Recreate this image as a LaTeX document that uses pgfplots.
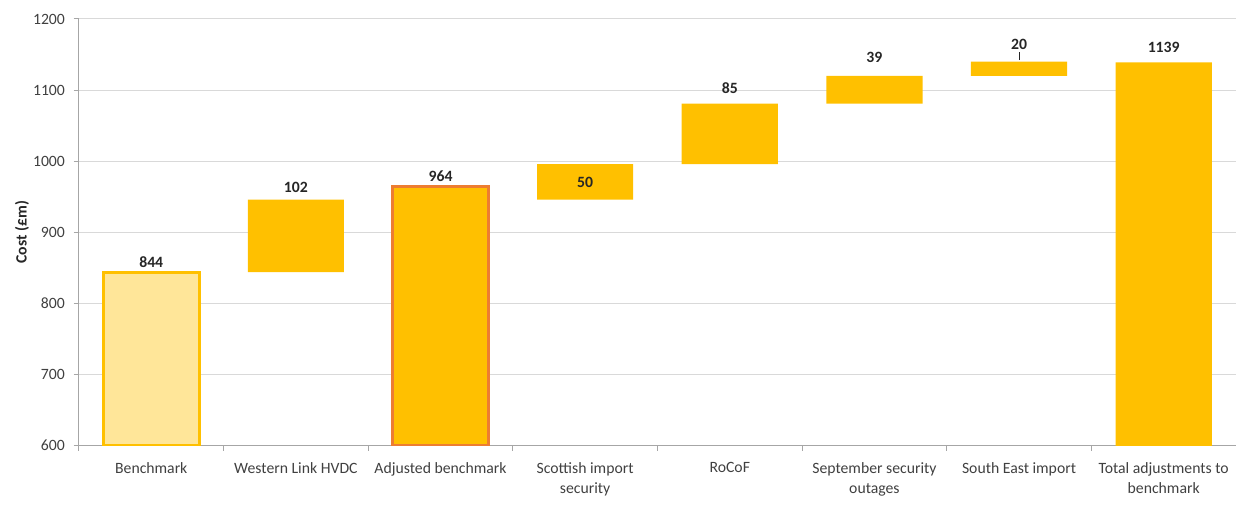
\documentclass[border=0pt]{standalone}
\usepackage{fontspec}
\setmainfont{Carlito}
\usepackage{pgfplots}
\usepackage{pgfplotstable}
\pgfplotsset{compat=1.18}

\definecolor{gold}{HTML}{FFC000}
\definecolor{paleGold}{HTML}{FFE699}
\definecolor{edgeOrange}{HTML}{ED7D31}
\definecolor{gridGrey}{HTML}{D9D9D9}
\definecolor{axisGrey}{HTML}{A6A6A6}
\definecolor{tickText}{HTML}{404040}
\definecolor{labelText}{HTML}{262626}

% waterfall: invisible base + visible step, label offset (pt) from bar top
\pgfplotstableread{
x base step dy
0 0    844  7.5
1 844  102  9.1
2 0    964  8.0
3 946  50   -13.6
4 996  85   11.8
5 1081 39   13.7
6 1120 20   13.0
7 0    1139 11.0
}\waterfall

\begin{document}
\begin{tikzpicture}
\begin{axis}[
  scale only axis,
  width=868.5pt, height=320.25pt,
  bar width=0.665,
  xmin=-0.5, xmax=7.5,
  ymin=600, ymax=1200,
  ytick={600,700,...,1200},
  xtick={0,...,7},
  xticklabels={Benchmark, Western Link HVDC, Adjusted benchmark, Scottish import\\security, RoCoF, September security\\outages, South East import, Total adjustments to\\benchmark},
  minor xtick={-0.5,0.5,...,7.5},
  major x tick style={draw=none},
  minor x tick style={draw=axisGrey, line width=0.75pt},
  major y tick style={draw=axisGrey, line width=0.75pt},
  tick align=outside,
  major tick length=4pt, minor tick length=4pt,
  axis x line*=bottom, axis y line*=left,
  axis line style={draw=axisGrey, line width=0.75pt, -},
  ymajorgrids, grid style={draw=gridGrey, line width=0.75pt},
  /pgf/number format/assume math mode=true,
  /pgf/number format/1000 sep={},
  ticklabel style={font=\fontsize{11.8}{15.5}\selectfont, text=tickText},
  yticklabel style={xshift=-3pt},
  xticklabel style={align=center, yshift=-5pt},
  every axis y label/.style={at={([xshift=-42.75pt]axis description cs:0,0.5)}, anchor=center, rotate=90},
  ylabel={Cost (£m)},
  ylabel style={font=\fontsize{11.8}{14}\selectfont\bfseries, text=labelText},
]
\coordinate (lowerleft) at (rel axis cs:0,0);
\coordinate (upperright) at (rel axis cs:1,1);

% invisible base of each floating step
\addplot[ybar stacked, bar shift=0pt, draw=none, fill=none, forget plot]
  table[x=x, y=base] {\waterfall};

% visible steps stacked on the base
\addplot[ybar stacked, bar shift=0pt, fill=gold, draw=none]
  table[x=x, y=step] {\waterfall};

% outlined totals
\addplot[ybar, stack plots=false, bar shift=0pt, fill=paleGold, draw=gold, line width=2.25pt]
  coordinates {(0,844)};
\addplot[ybar, stack plots=false, bar shift=0pt, fill=gold, draw=edgeOrange, line width=2.25pt]
  coordinates {(2,964)};

% value labels at the top of each bar
\addplot[stack plots=false, draw=none, mark=none, forget plot,
  visualization depends on={\thisrow{dy} \as \labeldy},
  nodes near coords={\pgfmathprintnumber[fixed, precision=0]{\pgfplotspointmeta}},
  point meta=explicit,
  every node near coord/.append style={anchor=center, yshift=\labeldy pt,
    font=\fontsize{11.8}{14}\selectfont\bfseries, text=labelText},
] table[x=x, y expr=\thisrow{base}+\thisrow{step}, meta=step] {\waterfall};

% leader line of the small step label
\addplot[stack plots=false, draw=labelText, line width=0.75pt, mark=none, forget plot]
  coordinates {(6,1142) (6,1154)};
\end{axis}
\pgfresetboundingbox
\path ([xshift=-59.25pt, yshift=-46.5pt]lowerleft) rectangle ([yshift=14.25pt]upperright);
\end{tikzpicture}
\end{document}
